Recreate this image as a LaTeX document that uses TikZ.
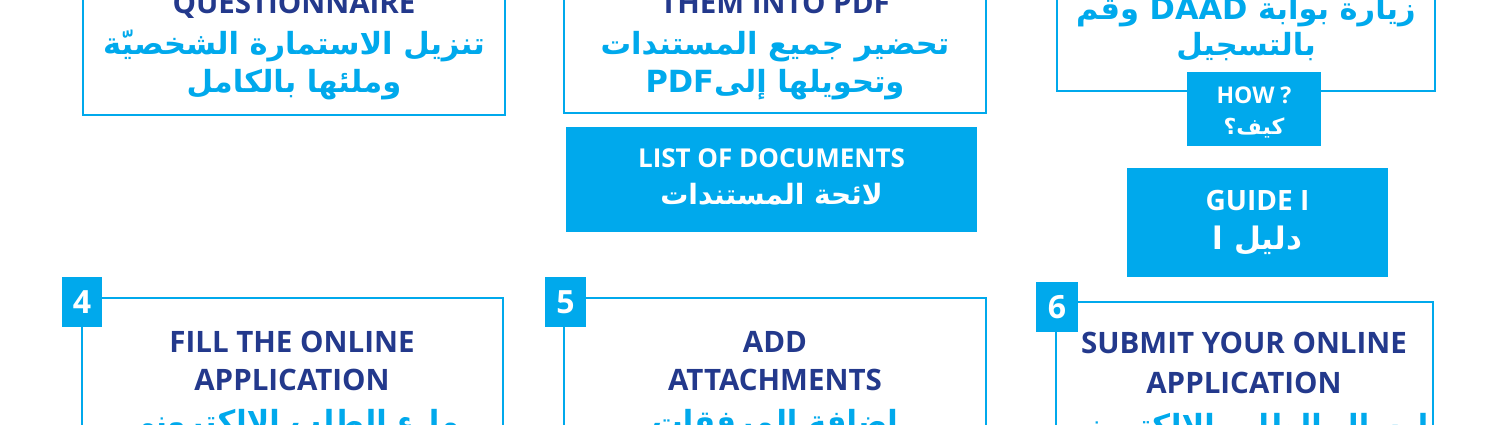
\documentclass[tikz,border=0pt]{standalone}
\usepackage{fontspec}
\setmainfont{Open Sans}
\newfontfamily\arabicfont[Script=Arabic]{DejaVu Sans}
\TeXXeTstate=1
\definecolor{lblue}{RGB}{0,169,236}
\definecolor{dblue}{RGB}{35,57,140}
\tikzset{
  frame/.style={draw=lblue, line width=2pt, inner sep=0pt, fill=white},
  fillbox/.style={fill=lblue, inner sep=0pt},
  numbox/.style={fill=lblue, inner sep=0pt, text=white, font=\fontsize{32}{36}\selectfont\bfseries},
  en/.style={anchor=base, inner sep=0pt, text=dblue, font=\fontsize{29.5}{34}\selectfont\bfseries},
  ar/.style={anchor=base, inner sep=0pt, text=lblue, font=\arabicfont\fontsize{30.5}{36}\selectfont\bfseries},
  wen/.style={anchor=base, inner sep=0pt, text=white, font=\fontsize{26}{30}\selectfont\bfseries},
  war/.style={anchor=base, inner sep=0pt, text=white, font=\arabicfont\fontsize{28}{32}\selectfont\bfseries},
}
\begin{document}
\begin{tikzpicture}[x=1pt,y=-1pt]
\useasboundingbox (0,0) rectangle (1500,424);
\clip (0,0) rectangle (1500,424);
\fill[white] (0,0) rectangle (1500,424);
% top row frames
\node[frame, minimum width=422pt, minimum height=315pt] (b1) at (294,-42.5) {};
\node[frame, minimum width=422pt, minimum height=313pt] (b2) at (775,-43.5) {};
\node[frame, minimum width=378pt, minimum height=291pt] (b3) at (1246,-54.5) {};
% step 1 text
\node[en] (t1a) at (294,13) {QUESTIONNAIRE};
\node[ar] (t1b) at (294,54) {\beginR تنزيل الاستمارة الشخصيّة\endR};
\node[ar] (t1c) at (294,92) {\beginR وملئها بالكامل\endR};
% step 2 text
\node[en] (t2a) at (775,13) {THEM INTO PDF};
\node[ar] (t2b) at (775,54) {\beginR تحضير جميع المستندات\endR};
\node[ar] (t2c) at (775,92) {\beginR وتحويلها إلى\beginL PDF\endL\endR};
% step 3 text
\node[ar] (t3b) at (1246,19) {\beginR زيارة بوابة \beginL DAAD\endL{} وقم\endR};
\node[ar] (t3c) at (1246,55) {\beginR بالتسجيل\endR};
% filled boxes
\node[fillbox, minimum width=411pt, minimum height=105pt] (list) at (771.5,179.5) {};
\node[wen] (lista) at (771.5,167) {LIST OF DOCUMENTS};
\node[war] (listb) at (771.5,204) {\beginR لائحة المستندات\endR};
\node[fillbox, minimum width=134pt, minimum height=74pt] (how) at (1254,109) {};
\node[wen, font=\fontsize{23}{28}\selectfont\bfseries] (howa) at (1254,103) {HOW ?};
\node[war, font=\arabicfont\fontsize{22}{26}\selectfont\bfseries] (howb) at (1254,134) {\beginR كيف؟\endR};
\node[fillbox, minimum width=261pt, minimum height=109pt] (guide) at (1257.5,222.5) {};
\node[wen, font=\fontsize{28}{32}\selectfont\bfseries] (guidea) at (1257.5,210) {GUIDE I};
\node[war, font=\arabicfont\fontsize{31}{34}\selectfont\bfseries] (guideb) at (1257.5,249) {\beginR دليل ا\endR};
% bottom row frames
\node[frame, minimum width=421pt, minimum height=302pt] (b4) at (292.5,449) {};
\node[frame, minimum width=422pt, minimum height=302pt] (b5) at (775,449) {};
\node[frame, minimum width=377pt, minimum height=298pt] (b6) at (1244.5,451) {};
\node[numbox, minimum width=40pt, minimum height=50pt] (n4) at (82,302) {4};
\node[numbox, minimum width=41pt, minimum height=50pt] (n5) at (565.5,302) {5};
\node[numbox, minimum width=42pt, minimum height=50pt] (n6) at (1057,307) {6};
% step 4
\node[en] (t4a) at (292,352) {FILL THE ONLINE};
\node[en] (t4b) at (292,390) {APPLICATION};
\node[ar] (t4c) at (292,432) {\beginR ملء الطلب الإلكتروني\endR};
% step 5
\node[en] (t5a) at (775,352) {ADD};
\node[en] (t5b) at (775,390) {ATTACHMENTS};
\node[ar] (t5c) at (775,432) {\beginR إضافة المرفقات\endR};
% step 6
\node[en] (t6a) at (1244,353) {SUBMIT YOUR ONLINE};
\node[en] (t6b) at (1244,393) {APPLICATION};
\node[ar] (t6c) at (1244,436) {\beginR إرسال الطلب الإلكتروني\endR};
\end{tikzpicture}
\end{document}
